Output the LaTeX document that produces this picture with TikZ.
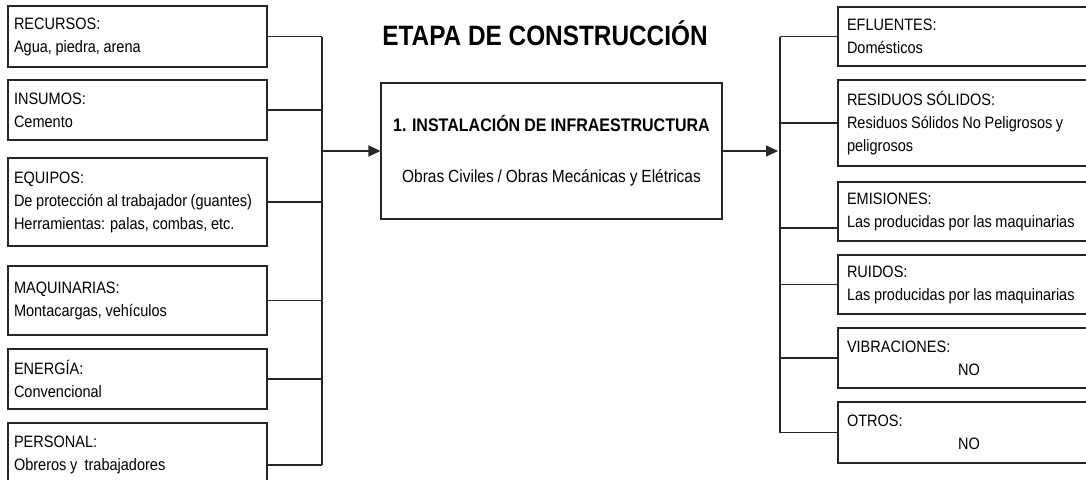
\documentclass[tikz,border=0pt]{standalone}
\usepackage{fontspec}
\setmainfont[FakeStretch=0.88,WordSpace=0.9]{Liberation Sans}
\newfontfamily\titlefont[FakeStretch=0.87]{Liberation Sans}
\usepackage{tikz}
\usetikzlibrary{arrows.meta,positioning,shapes}

\begin{document}
\begin{tikzpicture}[x=1pt,y=-1pt,
  caja/.style={draw=black!85,line width=1.1pt,inner xsep=6pt,
    font=\fontsize{16.5}{23}\selectfont},
  izq/.style={caja,align=flush left,text width=247pt},
  der/.style={caja,align=flush left,inner xsep=9pt,text width=244pt},
  linea/.style={draw=black!85,line width=1.1pt},
  flecha/.style={linea,-{Triangle[length=12pt,width=11pt]}}]
\useasboundingbox (0,0) rectangle (1086,479);

\node[font=\titlefont\bfseries\fontsize{28}{30}\selectfont] (titulo) at (545,33) {ETAPA DE CONSTRUCCIÓN};

% entradas
\node[izq,minimum height=61pt] (recursos) at (137.5,36.5) {RECURSOS:\\Agua, piedra, arena};
\node[izq,minimum height=60pt] (insumos) at (137.5,110) {INSUMOS:\\Cemento};
\node[izq,minimum height=88pt] (equipos) at (137.5,202) {EQUIPOS:\\De protección al trabajador (guantes)\\Herramientas: palas, combas, etc.};
\node[izq,minimum height=69pt] (maquinarias) at (137.5,300.5) {MAQUINARIAS:\\Montacargas, vehículos};
\node[izq,minimum height=60pt] (energia) at (137.5,379) {ENERGÍA:\\Convencional};
\node[izq,minimum height=64pt] (personal) at (137.5,455) {PERSONAL:\\Obreros y~ trabajadores};

% proceso
\node[caja,align=center,minimum width=341pt,minimum height=136pt] (instalacion) at (551.5,151)
  {{\bfseries\fontsize{18.2}{23}\selectfont 1. INSTALACIÓN DE INFRAESTRUCTURA}\\[28pt]{\fontsize{17.6}{23}\selectfont Obras Civiles / Obras Mecánicas y Elétricas}};

% salidas
\node[der,minimum height=59pt] (efluentes) at (969,36.5) {EFLUENTES:\\Domésticos};
\node[der,minimum height=86pt] (residuos) at (969,123) {RESIDUOS SÓLIDOS:\\Residuos Sólidos No Peligrosos y\\peligrosos};
\node[der,minimum height=59pt] (emisiones) at (969,211.5) {EMISIONES:\\Las producidas por las maquinarias};
\node[der,minimum height=59pt] (ruidos) at (969,284.5) {RUIDOS:\\Las producidas por las maquinarias};
\node[der,minimum height=60pt] (vibraciones) at (969,358) {VIBRACIONES:\\\makebox[\linewidth]{NO}};
\node[der,minimum height=61pt] (otros) at (969,432.5) {OTROS:\\\makebox[\linewidth]{NO}};

\coordinate (busizq) at (322,0);
\coordinate (busder) at (780,0);
\coordinate (pers-sal) at ([yshift=-10pt]personal.east);
\coordinate (emis-ent) at ([yshift=-16.5pt]emisiones.west);

\foreach \n in {recursos,insumos,equipos,maquinarias,energia}
  \draw[linea] (\n.east) -- (\n.east -| busizq);
\draw[linea] (pers-sal) -- (pers-sal -| busizq);
\draw[linea] (recursos.east -| busizq) -- (pers-sal -| busizq);
\draw[flecha] (instalacion.west -| busizq) -- (instalacion.west);

\draw[flecha,shorten >=2pt] (instalacion.east) -- (instalacion.east -| busder);
\foreach \n in {efluentes,residuos,ruidos,vibraciones,otros}
  \draw[linea] (\n.west -| busder) -- (\n.west);
\draw[linea] (emis-ent -| busder) -- (emis-ent);
\draw[linea] (efluentes.west -| busder) -- (otros.west -| busder);
\end{tikzpicture}
\end{document}
